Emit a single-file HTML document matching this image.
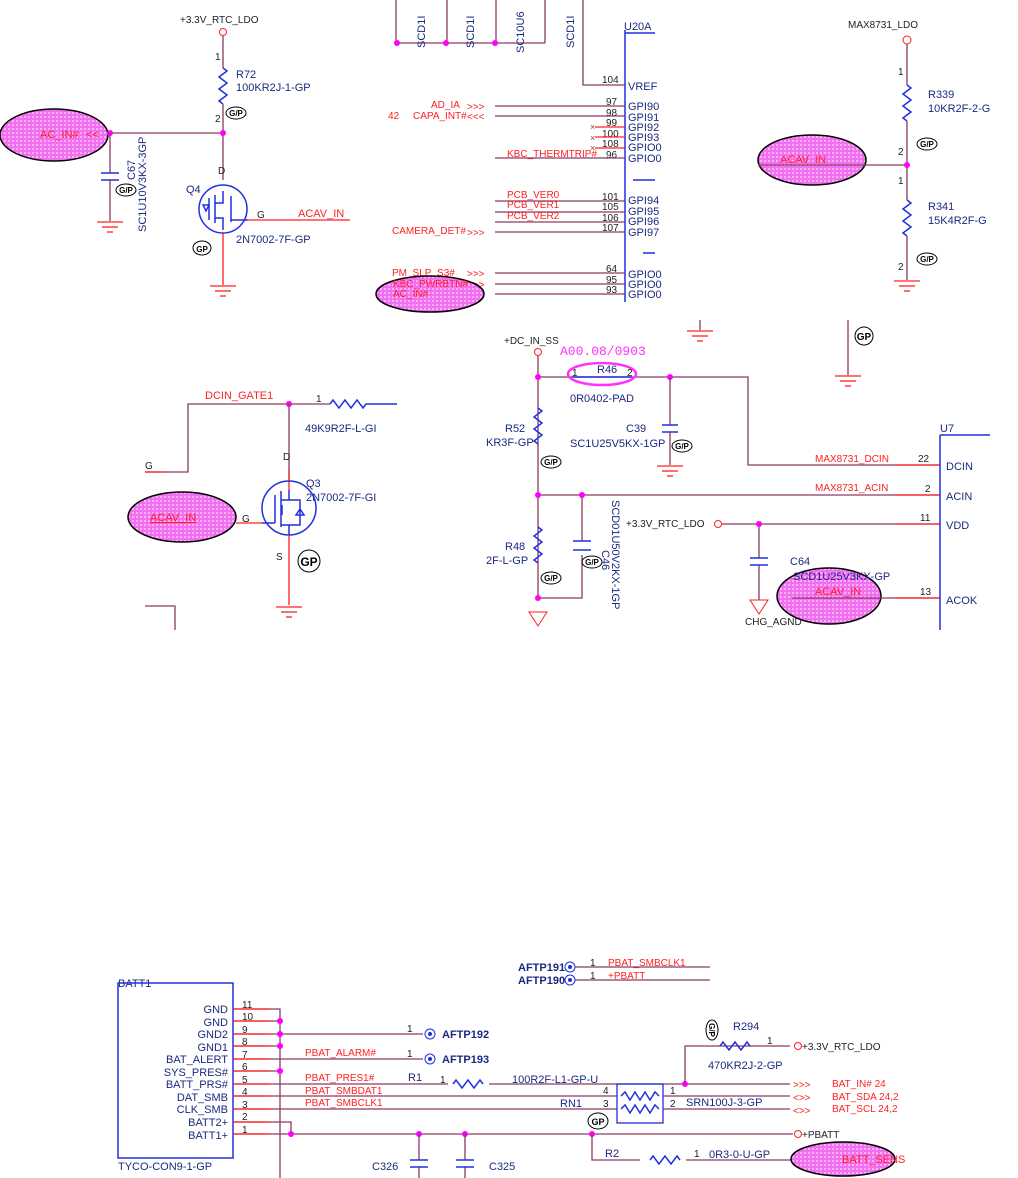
<!DOCTYPE html>
<html><head><meta charset="utf-8"><style>
html,body{margin:0;padding:0;background:#fff;}
svg{display:block;font-family:"Liberation Sans",Arial,sans-serif;}
.w{stroke:#8a3a60;stroke-width:1.3;fill:none}
.r{stroke:#ff2020;stroke-width:1.3;fill:none}
.b{stroke:#2030e0;stroke-width:1.5;fill:none}
.tb{fill:#1a2a80;font-size:11px}
.tr{fill:#ff2020;font-size:10px}
.tk{fill:#222;font-size:10px}
.tp{fill:#ff2020;font-size:11px}
.el{fill:url(#hat);stroke:#000;stroke-width:1.5}
.dot{fill:#ff00ff}
</style></head><body>
<svg width="1018" height="1178" viewBox="0 0 1018 1178" xmlns="http://www.w3.org/2000/svg">
<defs>
<pattern id="hat" width="4" height="4" patternUnits="userSpaceOnUse">
<rect width="4" height="4" fill="#f070f0"/><rect width="2" height="2" fill="#ffb0ff"/>
</pattern>
<g id="gnd"><line x1="-13" y1="0" x2="13" y2="0" class="r"/><line x1="-8" y1="5" x2="8" y2="5" class="r"/><line x1="-3" y1="10" x2="3" y2="10" class="r"/></g>
<g id="gp"><ellipse cx="0" cy="0" rx="10" ry="6" fill="#fff" stroke="#000"/><text x="0" y="3" font-size="8" font-weight="bold" text-anchor="middle" fill="#000">G/P</text></g>
</defs>

<!-- Panel 1 -->
<text x="180" y="23" class="tk">+3.3V_RTC_LDO</text>
<circle cx="223" cy="32" r="3.5" fill="none" stroke="#ff2020"/>
<line x1="223" y1="36" x2="223" y2="68" class="w"/>
<path d="M223,68 l4,3 l-8,6 l8,6 l-8,6 l8,6 l-8,6 l4,3" class="b"/>
<line x1="223" y1="104" x2="223" y2="180" class="w"/>
<text x="236" y="78" class="tb">R72</text><text x="236" y="91" class="tb">100KR2J-1-GP</text>
<use href="#gp" x="236" y="113"/>
<text x="215" y="60" class="tk" font-size="8">1</text><text x="215" y="122" class="tk" font-size="8">2</text>
<line x1="100" y1="133" x2="223" y2="133" class="w"/>
<ellipse cx="54" cy="135" rx="54" ry="26" class="el"/>
<text x="40" y="138" class="tp">AC_IN#</text><text x="86" y="138" class="tp">&lt;&lt;</text>
<circle cx="110" cy="133" r="3" class="dot"/><circle cx="223" cy="133" r="3" class="dot"/>
<line x1="110" y1="133" x2="110" y2="173" class="w"/>
<line x1="101" y1="173" x2="119" y2="173" class="b"/><line x1="101" y1="180" x2="119" y2="180" class="b"/>
<line x1="110" y1="180" x2="110" y2="221" class="w"/>
<use href="#gnd" x="110" y="222"/>
<use href="#gp" x="126" y="190"/>
<text transform="translate(146,232) rotate(-90)" class="tb">SC1U10V3KX-3GP</text>
<text transform="translate(135,180) rotate(-90)" class="tb">C67</text>
<circle cx="223" cy="209" r="24" class="b"/>
<path d="M209,198 v22 M215,195 v28 M215,203 h8 v-12 M215,218 h8 v12 M231,196 v26 M231,220 h17 M203,205 l6,0 l-3,6z" class="b"/>
<text x="218" y="174" class="tk">D</text><text x="186" y="193" class="tb">Q4</text>
<line x1="247" y1="220" x2="350" y2="220" class="r"/><text x="257" y="218" class="tk">G</text>
<text x="298" y="217" class="tp">ACAV_IN</text>
<text x="236" y="243" class="tb">2N7002-7F-GP</text>
<ellipse cx="202" cy="248" rx="9" ry="7" fill="#fff" stroke="#000"/><text x="202" y="252" font-size="8" text-anchor="middle" font-weight="bold">GP</text>
<line x1="223" y1="233" x2="223" y2="285" class="r"/>
<use href="#gnd" x="223" y="286"/>

<!-- Panel 2 -->
<path d="M396,0 V43 M447,0 V43 M496,0 V43 M545,0 V43 M396,43 H545" class="w"/>
<circle cx="397" cy="43" r="3" class="dot"/><circle cx="446" cy="43" r="3" class="dot"/><circle cx="495" cy="43" r="3" class="dot"/>
<text transform="translate(425,48) rotate(-90)" class="tb" font-size="10">SCD1I</text>
<text transform="translate(474,48) rotate(-90)" class="tb" font-size="10">SCD1I</text>
<text transform="translate(524,53) rotate(-90)" class="tb" font-size="10">SC10U6</text>
<text transform="translate(574,48) rotate(-90)" class="tb" font-size="10">SCD1I</text>
<path d="M583,0 V85 H625" class="w"/>
<line x1="625" y1="30" x2="625" y2="302" class="b"/><line x1="625" y1="33" x2="655" y2="33" class="b"/>
<text x="624" y="30" class="tb" font-size="10">U20A</text>
<line x1="633" y1="180" x2="655" y2="180" class="b"/><line x1="643" y1="253" x2="655" y2="253" class="b"/>
<g font-size="9">
<text x="602" y="83" class="tk">104</text><text x="628" y="90" class="tb" font-size="10">VREF</text>
<g class="tb" font-size="9">
<text x="628" y="110">GPI90</text><text x="628" y="121">GPI91</text><text x="628" y="131">GPI92</text><text x="628" y="141">GPI93</text><text x="628" y="151">GPIO0</text><text x="628" y="162">GPIO0</text>
<text x="628" y="204">GPI94</text><text x="628" y="215">GPI95</text><text x="628" y="225">GPI96</text><text x="628" y="236">GPI97</text>
<text x="628" y="278">GPIO0</text><text x="628" y="288">GPIO0</text><text x="628" y="298">GPIO0</text></g>
<text x="606" y="105" class="tk">97</text><text x="606" y="116" class="tk">98</text><text x="606" y="126" class="tk">99</text><text x="602" y="137" class="tk">100</text><text x="602" y="147" class="tk">108</text><text x="606" y="158" class="tk">96</text>
<text x="602" y="200" class="tk">101</text><text x="602" y="210" class="tk">105</text><text x="602" y="221" class="tk">106</text><text x="602" y="231" class="tk">107</text>
<text x="606" y="272" class="tk">64</text><text x="606" y="283" class="tk">95</text><text x="606" y="293" class="tk">93</text>
</g>
<path d="M495,106 H625 M495,116 H625 M495,158 H625 M495,201 H625 M495,212 H625 M495,222 H625 M495,232 H625 M495,273 H625 M495,284 H625 M495,294 H625" class="w"/>
<path d="M595,127 H625 M595,137 H625 M595,148 H625" class="r"/>
<text x="590" y="130" fill="#8a4a30" font-size="9">×</text><text x="590" y="141" fill="#8a4a30" font-size="9">×</text><text x="590" y="151" fill="#8a4a30" font-size="9">×</text>
<g class="tr" font-size="9">
<text x="431" y="108">AD_IA</text><text x="413" y="119">CAPA_INT#</text><text x="388" y="119">42</text>
<text x="507" y="157">KBC_THERMTRIP#</text>
<text x="507" y="198">PCB_VER0</text><text x="507" y="208">PCB_VER1</text><text x="507" y="219">PCB_VER2</text>
<text x="392" y="234">CAMERA_DET#</text><text x="392" y="276">PM_SLP_S3#</text>
</g>
<g class="tr" font-size="11"><text x="467" y="110">&gt;&gt;&gt;</text><text x="467" y="120">&lt;&lt;&lt;</text><text x="467" y="236">&gt;&gt;&gt;</text><text x="467" y="277">&gt;&gt;&gt;</text><text x="467" y="288">&gt;&gt;&gt;</text></g>
<ellipse cx="430" cy="294" rx="54" ry="18" class="el"/>
<text x="393" y="287" class="tr" font-size="9">KBC_PWRBTN#</text><text x="393" y="297" class="tr" font-size="9">AC_IN#</text>

<!-- Panel 3 -->
<text x="848" y="28" class="tk" font-size="13">MAX8731_LDO</text>
<circle cx="907" cy="40" r="4" fill="none" stroke="#ff2020"/>
<line x1="907" y1="44" x2="907" y2="85" class="w"/>
<path d="M907,85 l4,3 l-8,6 l8,6 l-8,6 l8,6 l-8,6 l4,3" class="b"/>
<line x1="907" y1="121" x2="907" y2="200" class="w"/>
<path d="M907,200 l4,3 l-8,6 l8,6 l-8,6 l8,6 l-8,6 l4,3" class="b"/>
<line x1="907" y1="236" x2="907" y2="280" class="w"/>
<use href="#gnd" x="907" y="281"/>
<text x="928" y="98" class="tb" font-size="13">R339</text><text x="928" y="112" class="tb" font-size="13">10KR2F-2-G</text>
<text x="928" y="210" class="tb" font-size="13">R341</text><text x="928" y="224" class="tb" font-size="13">15K4R2F-G</text>
<use href="#gp" x="927" y="144"/><use href="#gp" x="927" y="259"/>
<text x="898" y="75" class="tk" font-size="9">1</text><text x="898" y="155" class="tk" font-size="9">2</text><text x="898" y="184" class="tk" font-size="9">1</text><text x="898" y="270" class="tk" font-size="9">2</text>
<ellipse cx="812" cy="160" rx="54" ry="25" class="el"/>
<line x1="758" y1="165" x2="907" y2="165" class="w"/>
<text x="780" y="163" class="tp" font-size="13">ACAV_IN</text>
<circle cx="907" cy="165" r="3" class="dot"/>

<line x1="700" y1="320" x2="700" y2="330" class="w"/><use href="#gnd" x="700" y="331"/>
<line x1="848" y1="320" x2="848" y2="375" class="w"/><use href="#gnd" x="848" y="376"/>
<ellipse cx="864" cy="336" rx="9" ry="9" fill="#fff" stroke="#000"/><text x="864" y="340" font-size="10" font-weight="bold" text-anchor="middle">GP</text>

<!-- Panel 4 -->
<path d="M145,472 H188 V404 H330" class="w"/>
<line x1="145" y1="472" x2="165" y2="472" class="r"/>
<text x="145" y="469" class="tk" font-size="12">G</text>
<text x="205" y="399" class="tp" font-size="12">DCIN_GATE1</text>
<circle cx="289" cy="404" r="3" class="dot"/>
<text x="316" y="402" class="tk" font-size="10">1</text>
<path d="M330,404 l3,-4 l6,8 l6,-8 l6,8 l6,-8 l6,8 l3,-4 H397" class="b"/>
<text x="305" y="432" class="tb" font-size="12">49K9R2F-L-GI</text>
<line x1="289" y1="404" x2="289" y2="480" class="w"/>
<line x1="289" y1="470" x2="289" y2="490" class="r"/>
<text x="283" y="460" class="tk" font-size="10">D</text>
<circle cx="289" cy="508" r="27" class="b"/>
<path d="M275,495 v28 M281,491 v36 M281,500 h8 v-10 M281,525 h8 v10 M289,500 h11 v25 h-11 M296,515 l8,0 l-4,-6z M262,523 h13 M282,505 v10" class="b"/>
<text x="306" y="487" class="tb" font-size="12">Q3</text><text x="306" y="501" class="tb" font-size="12">2N7002-7F-GI</text>
<line x1="236" y1="523" x2="262" y2="523" class="r"/>
<text x="242" y="522" class="tk" font-size="12">G</text>
<ellipse cx="182" cy="517" rx="54" ry="25" class="el"/>
<text x="150" y="521" class="tp" font-size="12" text-decoration="underline">ACAV_IN</text>
<line x1="289" y1="535" x2="289" y2="605" class="r"/>
<use href="#gnd" x="289" y="607"/>
<text x="276" y="560" class="tk" font-size="10">S</text>
<ellipse cx="309" cy="561" rx="11" ry="11" fill="#fff" stroke="#000"/><text x="309" y="566" font-size="12" font-weight="bold" text-anchor="middle">GP</text>
<path d="M145,606 H175 V630" class="w"/>

<!-- Panel 5 -->
<text x="504" y="344" class="tk" font-size="10">+DC_IN_SS</text>
<text x="560" y="355" fill="#ff30ff" font-family="Liberation Mono,monospace" font-size="13">A00.08/0903</text>
<circle cx="538" cy="352" r="3.5" fill="none" stroke="#ff2020"/>
<path d="M538,356 V598 M538,377 H748 V465 H940 M538,495 H940 M538,598 H582 V555 M582,495 V541" class="w"/>
<line x1="572" y1="377" x2="632" y2="377" class="b"/>
<ellipse cx="602" cy="374" rx="34" ry="11" fill="none" stroke="#ff30ff" stroke-width="2.5"/>
<text x="597" y="373" class="tb" font-size="10">R46</text><text x="572" y="376" class="tk" font-size="10">1</text><text x="627" y="376" class="tk" font-size="10">2</text>
<text x="570" y="402" class="tb" font-size="12">0R0402-PAD</text>
<circle cx="538" cy="377" r="3" class="dot"/><circle cx="670" cy="377" r="3" class="dot"/>
<line x1="670" y1="377" x2="670" y2="425" class="w"/>
<line x1="662" y1="425" x2="678" y2="425" class="b"/><line x1="662" y1="432" x2="678" y2="432" class="b"/>
<line x1="670" y1="432" x2="670" y2="465" class="w"/><use href="#gnd" x="670" y="466"/>
<text x="626" y="432" class="tb" font-size="12">C39</text><text x="570" y="447" class="tb" font-size="12">SC1U25V5KX-1GP</text>
<use href="#gp" x="682" y="446"/>
<path d="M538,408 l4,3 l-8,6 l8,6 l-8,6 l8,6 l-8,6 l4,3" class="b"/>
<text x="505" y="432" class="tb" font-size="12">R52</text><text x="486" y="446" class="tb" font-size="12">KR3F-GP</text>
<use href="#gp" x="551" y="462"/>
<circle cx="538" cy="495" r="3" class="dot"/><circle cx="582" cy="495" r="3" class="dot"/>
<path d="M538,527 l4,3 l-8,6 l8,6 l-8,6 l8,6 l-8,6 l4,3" class="b"/>
<text x="505" y="550" class="tb" font-size="12">R48</text><text x="486" y="564" class="tb" font-size="12">2F-L-GP</text>
<use href="#gp" x="551" y="578"/>
<line x1="573" y1="541" x2="591" y2="541" class="b"/><line x1="573" y1="550" x2="591" y2="550" class="b"/>
<use href="#gp" x="592" y="562"/>
<text transform="translate(602,550) rotate(90)" class="tb" font-size="11">C46</text>
<text transform="translate(612,500) rotate(90)" class="tb" font-size="11">SCD01U50V2KX-1GP</text>
<circle cx="538" cy="598" r="3" class="dot"/>
<path d="M529,612 h18 l-9,14z" fill="none" stroke="#ff2020"/>
<text x="815" y="462" class="tr" font-size="11">MAX8731_DCIN</text><text x="815" y="491" class="tr" font-size="11">MAX8731_ACIN</text>
<text x="626" y="527" class="tk" font-size="11">+3.3V_RTC_LDO</text>
<circle cx="718" cy="524" r="3.5" fill="none" stroke="#ff2020"/>
<path d="M722,524 H940 M759,524 V558 M759,565 V600" class="w"/>
<circle cx="759" cy="524" r="3" class="dot"/>
<line x1="750" y1="558" x2="768" y2="558" class="b"/><line x1="750" y1="565" x2="768" y2="565" class="b"/>
<path d="M750,600 h18 l-9,14z" fill="none" stroke="#ff2020"/>
<text x="745" y="625" class="tk" font-size="10">CHG_AGND</text>
<text x="790" y="565" class="tb" font-size="11">C64</text>
<ellipse cx="829" cy="596" rx="52" ry="28" class="el"/>
<text x="793" y="580" class="tb" font-size="11">SCD1U25V3KX-GP</text>
<text x="815" y="595" class="tp" font-size="11">ACAV_IN</text>
<line x1="792" y1="598" x2="940" y2="598" class="w"/>
<line x1="895" y1="465" x2="940" y2="465" class="r"/><line x1="895" y1="495" x2="940" y2="495" class="r"/><line x1="895" y1="524" x2="940" y2="524" class="r"/><line x1="895" y1="598" x2="940" y2="598" class="r"/>
<text x="918" y="462" class="tk" font-size="11">22</text><text x="925" y="492" class="tk" font-size="11">2</text><text x="920" y="521" class="tk" font-size="11">11</text><text x="920" y="595" class="tk" font-size="11">13</text>
<line x1="940" y1="435" x2="940" y2="630" class="b"/><line x1="940" y1="435" x2="990" y2="435" class="b"/>
<text x="940" y="432" class="tb" font-size="12">U7</text>
<g class="tb" font-size="12"><text x="946" y="470">DCIN</text><text x="946" y="500">ACIN</text><text x="946" y="529">VDD</text><text x="946" y="604">ACOK</text></g>

<!-- Bottom -->
<text x="118" y="987" class="tb" font-size="10">BATT1</text>
<rect x="118" y="983" width="115" height="175" fill="none" stroke="#2030e0" stroke-width="1.5"/>
<text x="118" y="1170" class="tb" font-size="10">TYCO-CON9-1-GP</text>
<g class="tb" font-size="10" text-anchor="end">
<text x="228" y="1013">GND</text><text x="228" y="1026">GND</text><text x="228" y="1038">GND2</text><text x="228" y="1051">GND1</text><text x="228" y="1063">BAT_ALERT</text><text x="228" y="1076">SYS_PRES#</text><text x="228" y="1088">BATT_PRS#</text><text x="228" y="1101">DAT_SMB</text><text x="228" y="1113">CLK_SMB</text><text x="228" y="1126">BATT2+</text><text x="228" y="1139">BATT1+</text>
</g>
<g class="tk" font-size="9"><text x="242" y="1008">11</text><text x="242" y="1020">10</text><text x="242" y="1033">9</text><text x="242" y="1045">8</text><text x="242" y="1058">7</text><text x="242" y="1070">6</text><text x="242" y="1083">5</text><text x="242" y="1095">4</text><text x="242" y="1108">3</text><text x="242" y="1120">2</text><text x="242" y="1133">1</text></g>
<path d="M233,1009 H280 V1178 M233,1021 H280 M233,1034 H423 M233,1046 H280 M233,1059 H423 M233,1071 H280 M233,1084 H448 M489,1084 H790 M233,1096 H617 M233,1109 H617 M233,1122 H291 V1134 M233,1134 H793" class="w"/>
<g class="r"><path d="M233,1009 H270 M233,1021 H270 M233,1034 H270 M233,1046 H270 M233,1059 H270 M233,1071 H270 M233,1084 H270 M233,1096 H270 M233,1109 H270 M233,1122 H270 M233,1134 H270"/></g>
<g class="dot"><circle cx="280" cy="1021" r="3"/><circle cx="280" cy="1034" r="3"/><circle cx="280" cy="1046" r="3"/><circle cx="280" cy="1071" r="3"/><circle cx="291" cy="1134" r="3"/><circle cx="419" cy="1134" r="3"/><circle cx="465" cy="1134" r="3"/><circle cx="592" cy="1134" r="3"/><circle cx="685" cy="1084" r="3"/></g>
<g class="tb" font-size="11" font-weight="bold"><circle cx="430" cy="1034" r="5" fill="none" stroke="#2030e0"/><circle cx="430" cy="1034" r="2" fill="#2030e0"/><text x="442" y="1038">AFTP192</text>
<circle cx="430" cy="1059" r="5" fill="none" stroke="#2030e0"/><circle cx="430" cy="1059" r="2" fill="#2030e0"/><text x="442" y="1063">AFTP193</text></g>
<text x="407" y="1032" class="tk" font-size="10">1</text><text x="407" y="1057" class="tk" font-size="10">1</text>
<g class="tr" font-size="10"><text x="305" y="1056">PBAT_ALARM#</text><text x="305" y="1081">PBAT_PRES1#</text><text x="305" y="1094">PBAT_SMBDAT1</text><text x="305" y="1106">PBAT_SMBCLK1</text></g>
<text x="408" y="1081" class="tb" font-size="10">R1</text><text x="440" y="1083" class="tk" font-size="10">1</text>
<path d="M453,1084 l3,-4 l6,8 l6,-8 l6,8 l6,-8 l3,4" class="b"/>
<text x="512" y="1083" class="tb" font-size="10">100R2F-L1-GP-U</text>
<text x="560" y="1107" class="tb" font-size="10">RN1</text>
<text x="603" y="1094" class="tk" font-size="10">4</text><text x="603" y="1107" class="tk" font-size="10">3</text>
<rect x="617" y="1084" width="46" height="39" fill="none" stroke="#2030e0" stroke-width="1.3"/>
<path d="M621,1096 l4,-4 l5,8 l5,-8 l5,8 l5,-8 l5,8 l5,-8 l4,4 M621,1109 l4,-4 l5,8 l5,-8 l5,8 l5,-8 l5,8 l5,-8 l4,4" class="b"/>
<text x="670" y="1094" class="tk" font-size="10">1</text><text x="670" y="1107" class="tk" font-size="10">2</text>
<text x="686" y="1106" class="tb" font-size="10">SRN100J-3-GP</text>
<path d="M663,1096 H790 M663,1109 H790 M685,1084 V1046 H790" class="w"/>
<text x="733" y="1030" class="tb" font-size="10">R294</text>
<path d="M720,1046 l3,-4 l6,8 l6,-8 l6,8 l6,-8 l3,4" class="b"/>
<text x="767" y="1044" class="tk" font-size="10">1</text>
<circle cx="798" cy="1046" r="3.5" fill="none" stroke="#ff2020"/><text x="802" y="1050" class="tk" font-size="10">+3.3V_RTC_LDO</text>
<text x="708" y="1069" class="tb" font-size="10">470KR2J-2-GP</text>
<g class="tr" font-size="13"><text x="793" y="1088">&gt;&gt;&gt;</text><text x="793" y="1101">&lt;&gt;&gt;</text><text x="793" y="1114">&lt;&gt;&gt;</text></g>
<g class="tr" font-size="10"><text x="832" y="1087">BAT_IN#   24</text><text x="832" y="1100">BAT_SDA  24,2</text><text x="832" y="1112">BAT_SCL  24,2</text></g>
<ellipse cx="598" cy="1121" rx="10" ry="8" fill="#fff" stroke="#000"/><text x="598" y="1125" font-size="9" font-weight="bold" text-anchor="middle">GP</text>
<circle cx="798" cy="1134" r="3.5" fill="none" stroke="#ff2020"/><text x="802" y="1138" class="tk" font-size="10">+PBATT</text>
<path d="M592,1134 V1160 H640 M686,1160 H793" class="w"/>
<text x="605" y="1157" class="tb" font-size="10">R2</text>
<path d="M650,1160 l3,-4 l6,8 l6,-8 l6,8 l6,-8 l3,4" class="b"/>
<text x="694" y="1157" class="tk" font-size="10">1</text><text x="709" y="1158" class="tb" font-size="10">0R3-0-U-GP</text>
<ellipse cx="843" cy="1159" rx="52" ry="17" class="el"/>
<text x="842" y="1163" class="tp" font-size="10">BATT_SENS</text>
<path d="M419,1134 V1160 M465,1134 V1160 M419,1167 V1178 M465,1167 V1178" class="w"/>
<path d="M410,1160 h18 M410,1167 h18 M456,1160 h18 M456,1167 h18" class="b"/>
<text x="372" y="1170" class="tb" font-size="10">C326</text><text x="489" y="1170" class="tb" font-size="10">C325</text>
<circle cx="570" cy="967" r="5" fill="none" stroke="#2030e0"/><circle cx="570" cy="967" r="2" fill="#2030e0"/>
<circle cx="570" cy="980" r="5" fill="none" stroke="#2030e0"/><circle cx="570" cy="980" r="2" fill="#2030e0"/>
<text x="518" y="971" class="tb" font-size="10" font-weight="bold">AFTP191</text><text x="518" y="984" class="tb" font-size="10" font-weight="bold">AFTP190</text>
<path d="M575,967 H710 M575,980 H710" class="w"/>
<text x="590" y="966" class="tk" font-size="9">1</text><text x="590" y="979" class="tk" font-size="9">1</text>
<text x="608" y="966" class="tr" font-size="9">PBAT_SMBCLK1</text><text x="608" y="979" class="tr" font-size="9">+PBATT</text>
<use href="#gp" x="712" y="1030" transform="rotate(90 712 1030)"/>
</svg>
</body></html>
